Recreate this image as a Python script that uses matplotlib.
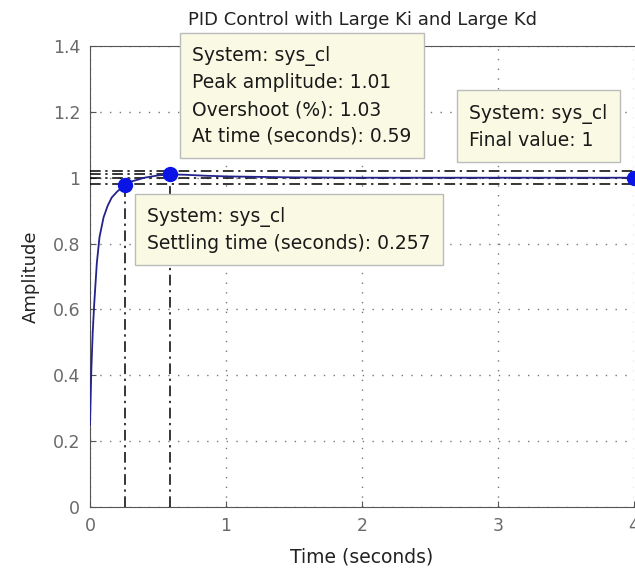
import matplotlib
matplotlib.use("Agg")
import matplotlib.pyplot as plt

# ── Data ─────────────────────────────────────────────────────────────────────
time_s    = [0, 0.01, 0.02, 0.03, 0.05, 0.07, 0.10, 0.13, 0.16, 0.20, 0.257,
             0.30, 0.40, 0.50, 0.59, 0.70, 0.85, 1.0, 1.5, 2.0, 3.0, 4.0]
amplitude = [0.25, 0.42, 0.53, 0.61, 0.74, 0.82, 0.88, 0.915, 0.94, 0.958, 0.978,
             0.988, 1.0, 1.007, 1.010, 1.009, 1.006, 1.004, 1.001, 1.0, 1.0, 1.0]

settle_t, settle_y = 0.257, 0.978
peak_t, peak_y     = 0.59, 1.01
final_t, final_y   = 4.0, 1.0
band_lo, band_hi   = 0.98, 1.02

x_ticks = [0, 1, 2, 3, 4]
y_ticks = [0, 0.2, 0.4, 0.6, 0.8, 1, 1.2, 1.4]
y_ticklabels = ["0", "0.2", "0.4", "0.6", "0.8", "1", "1.2", "1.4"]

# ── Figure ───────────────────────────────────────────────────────────────────
plt.rcParams["font.family"] = ["DejaVu Sans"]
fig = plt.figure(figsize=(6.35, 5.75), dpi=100)
ax = fig.add_axes([90 / 635, 68 / 575, 544 / 635, 461 / 575])

line_col = "#23238c"
dot_col = "#0a14e6"
dash = (0, (7, 3, 1.5, 3))

# characteristic lines
ax.plot([0, 4], [band_hi, band_hi], color="black", lw=1.1, ls=dash, zorder=3)
ax.plot([0, 4], [band_lo, band_lo], color="black", lw=1.1, ls=dash, zorder=3)
ax.plot([0, 4], [final_y, final_y], color="black", lw=1.1, ls=dash, zorder=3)
ax.plot([settle_t, settle_t], [0, settle_y], color="black", lw=1.1, ls=dash, zorder=3)
ax.plot([peak_t, peak_t], [0, peak_y], color="black", lw=1.1, ls=dash, zorder=3)
ax.plot([0, peak_t], [peak_y, peak_y], color="black", lw=1.1, ls=dash, zorder=3)

ax.plot(time_s, amplitude, color=line_col, lw=1.3, zorder=4)
ax.plot([settle_t, peak_t, final_t], [settle_y, peak_y, final_y], "o",
        color=dot_col, ms=10, zorder=5, clip_on=False)

ax.set_xlim(0, 4)
ax.set_ylim(0, 1.4)
ax.set_xticks(x_ticks)
ax.set_yticks(y_ticks)
ax.set_yticklabels(y_ticklabels)
ax.tick_params(direction="in", length=4, colors="#555555", labelsize=12.5,
               labelcolor="#6a6a6a", pad=7)
ax.grid(True, color="#777777", ls=(0, (1, 6)), lw=1.0)
for side in ["left", "bottom", "top"]:
    ax.spines[side].set_color("#555555")
ax.spines["right"].set_visible(False)

ax.set_title("PID Control with Large Ki and Large Kd", fontsize=13,
             color="#222222", pad=15)
ax.set_xlabel("Time (seconds)", fontsize=13.5, color="#222222", labelpad=9)
ax.set_ylabel("Amplitude", fontsize=13, color="#222222", labelpad=9)

# data tips
box = dict(boxstyle="square,pad=0.65", fc="#fafae4", ec="#bbbbbb", lw=1.0)
kw = dict(fontsize=13.5, color="#1a1a1a", ha="left", va="top",
          linespacing=1.5, bbox=box, zorder=6, clip_on=False)
ax.text(0.75, 1.40, "System: sys_cl\nPeak amplitude: 1.01\n"
        "Overshoot (%): 1.03\nAt time (seconds): 0.59", **kw)
ax.text(2.79, 1.225, "System: sys_cl\nFinal value: 1", **kw)
ax.text(0.42, 0.912, "System: sys_cl\nSettling time (seconds): 0.257", **kw)

fig.savefig("out.png", dpi=100)
